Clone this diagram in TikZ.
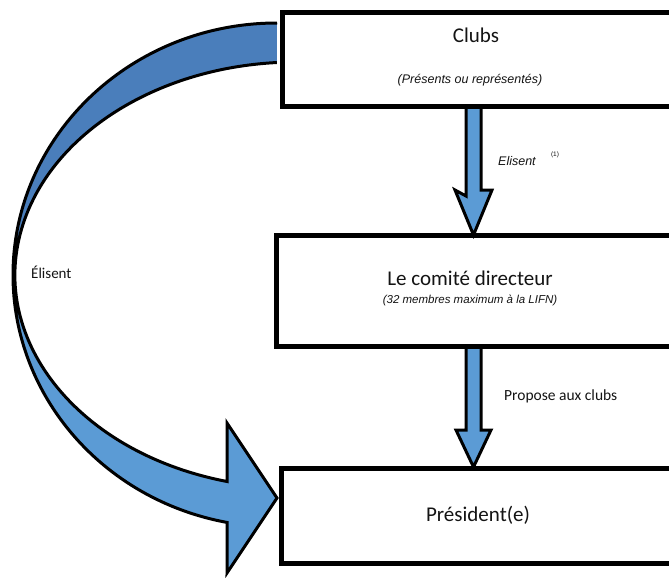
\documentclass[tikz,border=0pt]{standalone}
\usepackage{fontspec}
\setmainfont{Carlito}
\newfontfamily\arialf{Liberation Sans}
\definecolor{lightblue}{RGB}{91,155,213}
\definecolor{darkblue}{RGB}{74,126,187}
\definecolor{inkc}{RGB}{20,20,20}
\tikzset{
  box/.style={draw=black,line width=5pt,fill=white,inner sep=0pt,anchor=north west},
  title/.style={font=\fontsize{21}{24}\selectfont,text=inkc,inner sep=0pt},
  subtitle/.style={font=\arialf\itshape\fontsize{11.5}{13}\selectfont,text=inkc,inner sep=0pt},
  lbl/.style={font=\fontsize{15.5}{18}\selectfont,text=inkc,inner sep=0pt,anchor=west},
  blockarrow/.style={draw=black,line width=3pt,fill=lightblue,line join=miter}
}
\begin{document}
\begin{tikzpicture}[x=1pt,y=-1pt]
\useasboundingbox (0,0) rectangle (669,579);
\fill[white] (0,0) rectangle (669,579);
\begin{scope}
\clip (0,0) rectangle (669,579);
% big curved arrow: Clubs -> President
\fill[lightblue] (277,23) arc[start angle=270,end angle=100.9,x radius=264,y radius=252]
  -- (227,573) -- (277,498) -- (227,423) -- (227,481.5)
  arc[start angle=104.2,end angle=266.1,x radius=281,y radius=213] -- cycle;
\fill[darkblue] (277,23) arc[start angle=270,end angle=180,x radius=264,y radius=252]
  -- (15,275) arc[start angle=180,end angle=266.1,x radius=281,y radius=213] -- cycle;
\draw[black,line width=3pt,line join=miter] (277,23) arc[start angle=270,end angle=100.9,x radius=264,y radius=252]
  -- (227,573) -- (277,498) -- (227,423) -- (227,481.5)
  arc[start angle=104.2,end angle=266.1,x radius=281,y radius=213];
% boxes
\node[box,minimum width=430pt,minimum height=94pt] (clubs) at (279.5,10) {};
\node[box,minimum width=430pt,minimum height=111pt] (comite) at (274,233) {};
\node[box,minimum width=430pt,minimum height=95pt] (president) at (279,466) {};
% vertical block arrows
\coordinate (a1) at (473.5,0 |- clubs.south);
\coordinate (a1t) at (473.5,0 |- comite.north);
\draw[blockarrow] ([xshift=-7.5pt]a1) -- ++(0,87) -- (455,190) -- ([yshift=-2pt]a1t) -- (492,190) -- (481,190) -- ([xshift=7.5pt]a1);
\coordinate (a2) at (473.5,0 |- comite.south);
\coordinate (a2t) at (473.5,0 |- president.north);
\draw[blockarrow] ([xshift=-7.5pt]a2) -- (466,430) -- (456,430) -- ([yshift=-1pt]a2t) -- (491,430) -- (481,430) -- ([xshift=7.5pt]a2);
\end{scope}
% texts
\node[title] (tclubs) at (476,35) {Clubs};
\node[subtitle,font=\arialf\itshape\fontsize{12.5}{14}\selectfont] (sclubs) at (470,80) {(Présents ou représentés)};
\node[title] (tcomite) at (470,278) {Le comité directeur};
\node[subtitle] (scomite) at (470,300) {(32 membres maximum à la LIFN)};
\node[title] (tpres) at (478,515) {Président(e)};
\node[subtitle,anchor=west,font=\arialf\itshape\fontsize{12.5}{14}\selectfont] (lelisent) at (498,161) {Elisent};
\node[font=\arialf\fontsize{6.5}{7}\selectfont,text=inkc,inner sep=0pt] (lnote) at (555,155) {(1)};
\node[lbl] (lpropose) at (504,396) {Propose aux clubs};
\node[lbl,font=\fontsize{15}{18}\selectfont] (lelisent2) at (31,272) {Élisent};
\end{tikzpicture}
\end{document}
